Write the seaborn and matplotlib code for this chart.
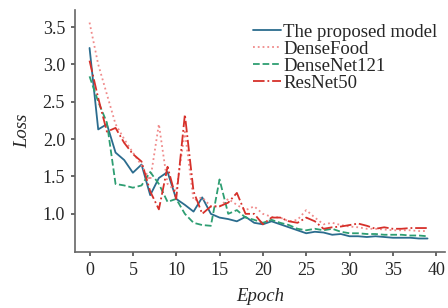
import numpy as np
import pandas as pd
import matplotlib
matplotlib.use("Agg")
import matplotlib.pyplot as plt
import seaborn as sns

epochs = list(range(40))
proposed = [3.22, 2.13, 2.2, 1.82, 1.72, 1.55, 1.66, 1.25, 1.48, 1.56, 1.2, 1.12, 1.03, 1.22, 1.0, 0.95,
            0.93, 0.9, 0.96, 0.88, 0.86, 0.9, 0.86, 0.82, 0.78, 0.74, 0.76, 0.75, 0.72, 0.73, 0.7, 0.7,
            0.69, 0.7, 0.69, 0.68, 0.68, 0.68, 0.67, 0.67]
densefood = [3.56, 3.0, 2.6, 2.2, 2.0, 1.82, 1.65, 1.45, 2.2, 1.4, 1.3, 2.1, 1.18, 1.22, 1.1, 1.1,
             1.2, 1.12, 1.05, 1.1, 1.0, 0.96, 0.95, 0.9, 0.92, 1.05, 0.95, 0.86, 0.88, 0.85, 0.83, 0.82,
             0.8, 0.8, 0.79, 0.78, 0.78, 0.78, 0.77, 0.77]
densenet121 = [2.84, 2.5, 2.22, 1.4, 1.38, 1.35, 1.38, 1.56, 1.4, 1.16, 1.2, 1.0, 0.88, 0.85, 0.84, 1.46,
               1.0, 1.05, 0.95, 0.92, 0.88, 0.92, 0.88, 0.85, 0.8, 0.78, 0.8, 0.78, 0.8, 0.76, 0.74, 0.74,
               0.73, 0.73, 0.72, 0.72, 0.72, 0.71, 0.71, 0.7]
resnet50 = [3.05, 2.55, 2.1, 2.15, 1.95, 1.8, 1.7, 1.3, 1.06, 1.63, 1.2, 2.33, 1.3, 1.0, 1.1, 1.1,
            1.15, 1.28, 1.0, 1.0, 0.86, 0.95, 0.95, 0.9, 0.88, 0.95, 0.9, 0.8, 0.82, 0.83, 0.85, 0.87,
            0.84, 0.8, 0.82, 0.8, 0.8, 0.81, 0.81, 0.81]

names = ["The proposed model", "DenseFood", "DenseNet121", "ResNet50"]
series = [proposed, densefood, densenet121, resnet50]
colors = ["#2b6c8e", "#f08a8a", "#2e9e72", "#d6302a"]
styles = ["-", ":", "--", "-."]

sns.set_theme(style="white")
plt.rcParams["font.family"] = ["Liberation Serif", "DejaVu Serif"]

fig = plt.figure(figsize=(4.48, 3.08), dpi=100)
ax = fig.add_axes([0.167, 0.182, 0.826, 0.786])

for name, vals, c, ls in zip(names, series, colors, styles):
    df = pd.DataFrame({"Epoch": epochs, "Loss": vals})
    sns.lineplot(data=df, x="Epoch", y="Loss", ax=ax, color=c, linestyle=ls,
                 linewidth=1.3, label=name)

ax.set_xlim(-1.7, 41)
ax.set_ylim(0.49, 3.73)
ax.set_xticks(range(0, 41, 5))
ax.set_yticks([1.0, 1.5, 2.0, 2.5, 3.0, 3.5])
ax.set_yticklabels(["1.0", "1.5", "2.0", "2.5", "3.0", "3.5"])
ax.tick_params(axis="both", labelsize=13, length=3, color="#555555", direction="out",
               left=True, bottom=True, pad=4)
for s in ["top", "right"]:
    ax.spines[s].set_visible(False)
for s in ["left", "bottom"]:
    ax.spines[s].set_color("#666666")
    ax.spines[s].set_linewidth(1.2)

ax.set_xlabel("Epoch", fontsize=13.5, style="italic", labelpad=7)
ax.set_ylabel("Loss", fontsize=13.5, style="italic", labelpad=8)

leg = ax.legend(loc="upper right", frameon=False, fontsize=13.5, labelspacing=0.0,
                handlelength=1.5, handletextpad=0.1, borderaxespad=0.0,
                bbox_to_anchor=(1.0, 0.975))

fig.savefig("out.png", dpi=100)
